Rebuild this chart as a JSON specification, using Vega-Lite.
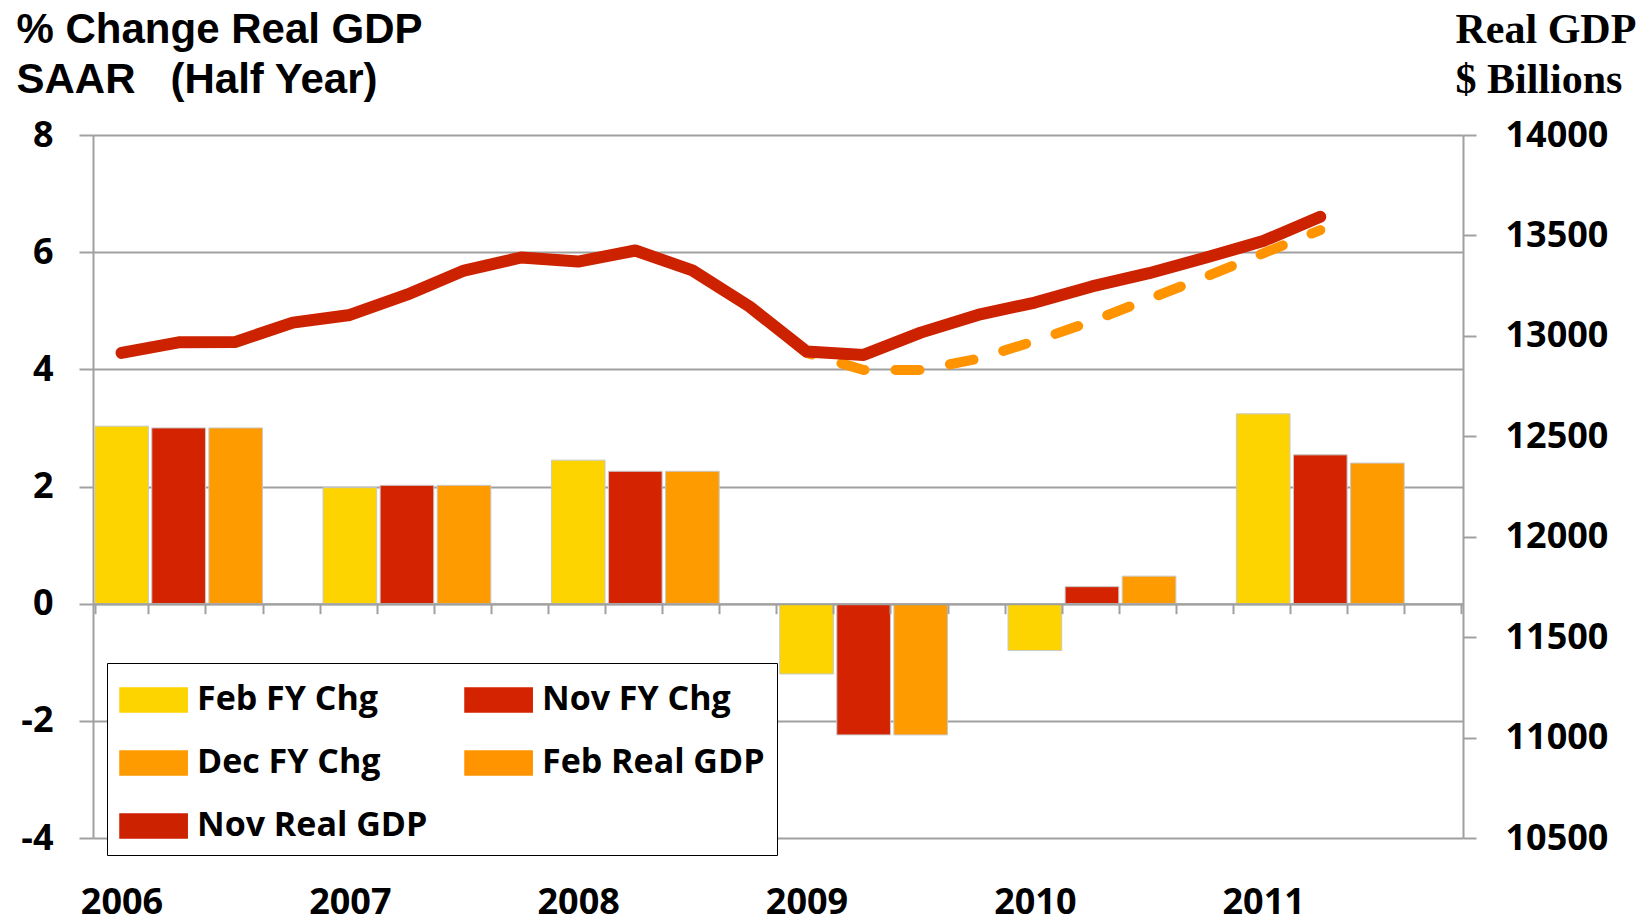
{
  "$schema": "https://vega.github.io/schema/vega-lite/v6.json",
  "width": 1370,
  "height": 703,
  "autosize": "none",
  "padding": {"left": 93, "top": 135, "right": 187, "bottom": 86},
  "background": "white",
  "config": {"view": {"stroke": null}},
  "datasets": {
    "bars": [
      {"q": "2006Q1", "series": "Feb FY Chg", "pct": 3.03},
      {"q": "2006Q2", "series": "Nov FY Chg", "pct": 3.00},
      {"q": "2006Q3", "series": "Dec FY Chg", "pct": 3.00},
      {"q": "2007Q1", "series": "Feb FY Chg", "pct": 1.98},
      {"q": "2007Q2", "series": "Nov FY Chg", "pct": 2.02},
      {"q": "2007Q3", "series": "Dec FY Chg", "pct": 2.02},
      {"q": "2008Q1", "series": "Feb FY Chg", "pct": 2.45},
      {"q": "2008Q2", "series": "Nov FY Chg", "pct": 2.26},
      {"q": "2008Q3", "series": "Dec FY Chg", "pct": 2.26},
      {"q": "2009Q1", "series": "Feb FY Chg", "pct": -1.20},
      {"q": "2009Q2", "series": "Nov FY Chg", "pct": -2.24},
      {"q": "2009Q3", "series": "Dec FY Chg", "pct": -2.24},
      {"q": "2010Q1", "series": "Feb FY Chg", "pct": -0.80},
      {"q": "2010Q2", "series": "Nov FY Chg", "pct": 0.29},
      {"q": "2010Q3", "series": "Dec FY Chg", "pct": 0.47},
      {"q": "2011Q1", "series": "Feb FY Chg", "pct": 3.24},
      {"q": "2011Q2", "series": "Nov FY Chg", "pct": 2.54},
      {"q": "2011Q3", "series": "Dec FY Chg", "pct": 2.40}
    ],
    "gdp": [
      {"q": "2006Q1", "series": "Nov Real GDP", "gdp": 12915},
      {"q": "2006Q2", "series": "Nov Real GDP", "gdp": 12968},
      {"q": "2006Q3", "series": "Nov Real GDP", "gdp": 12970},
      {"q": "2006Q4", "series": "Nov Real GDP", "gdp": 13066},
      {"q": "2007Q1", "series": "Nov Real GDP", "gdp": 13104},
      {"q": "2007Q2", "series": "Nov Real GDP", "gdp": 13205},
      {"q": "2007Q3", "series": "Nov Real GDP", "gdp": 13325},
      {"q": "2007Q4", "series": "Nov Real GDP", "gdp": 13390},
      {"q": "2008Q1", "series": "Nov Real GDP", "gdp": 13370},
      {"q": "2008Q2", "series": "Nov Real GDP", "gdp": 13425},
      {"q": "2008Q3", "series": "Nov Real GDP", "gdp": 13326},
      {"q": "2008Q4", "series": "Nov Real GDP", "gdp": 13146},
      {"q": "2009Q1", "series": "Nov Real GDP", "gdp": 12922},
      {"q": "2009Q2", "series": "Nov Real GDP", "gdp": 12905},
      {"q": "2009Q3", "series": "Nov Real GDP", "gdp": 13016},
      {"q": "2009Q4", "series": "Nov Real GDP", "gdp": 13104},
      {"q": "2010Q1", "series": "Nov Real GDP", "gdp": 13166},
      {"q": "2010Q2", "series": "Nov Real GDP", "gdp": 13246},
      {"q": "2010Q3", "series": "Nov Real GDP", "gdp": 13312},
      {"q": "2010Q4", "series": "Nov Real GDP", "gdp": 13390},
      {"q": "2011Q1", "series": "Nov Real GDP", "gdp": 13472},
      {"q": "2011Q2", "series": "Nov Real GDP", "gdp": 13593},
      {"q": "2008Q4", "series": "Feb Real GDP", "gdp": 13146},
      {"q": "2009Q1", "series": "Feb Real GDP", "gdp": 12915},
      {"q": "2009Q2", "series": "Feb Real GDP", "gdp": 12830},
      {"q": "2009Q3", "series": "Feb Real GDP", "gdp": 12830},
      {"q": "2009Q4", "series": "Feb Real GDP", "gdp": 12886},
      {"q": "2010Q1", "series": "Feb Real GDP", "gdp": 12974},
      {"q": "2010Q2", "series": "Feb Real GDP", "gdp": 13073},
      {"q": "2010Q3", "series": "Feb Real GDP", "gdp": 13184},
      {"q": "2010Q4", "series": "Feb Real GDP", "gdp": 13295},
      {"q": "2011Q1", "series": "Feb Real GDP", "gdp": 13411},
      {"q": "2011Q2", "series": "Feb Real GDP", "gdp": 13527}
    ]
  },
  "layer": [
    {
      "data": {"name": "bars"},
      "mark": {"type": "bar", "stroke": "#c8c8c8", "strokeWidth": 1},
      "encoding": {
        "x": {
          "field": "q", "type": "ordinal", "sort": null,
          "scale": {
            "domain": ["2006Q1","2006Q2","2006Q3","2006Q4","2007Q1","2007Q2","2007Q3","2007Q4","2008Q1","2008Q2","2008Q3","2008Q4","2009Q1","2009Q2","2009Q3","2009Q4","2010Q1","2010Q2","2010Q3","2010Q4","2011Q1","2011Q2","2011Q3","2011Q4"],
            "paddingInner": 0.06, "paddingOuter": 0.03
          },
          "axis": {
            "orient": "bottom", "offset": -234.33, "zindex": 1,
            "title": null, "grid": false,
            "domainColor": "#a0a0a0", "domainWidth": 2,
            "tickColor": "#a0a0a0", "tickWidth": 2, "tickSize": 10, "tickBand": "extent",
            "labelExpr": "indexof('' + datum.value, 'Q1') == 4 ? substring('' + datum.value, 0, 4) : ''",
            "labelAngle": 0, "labelPadding": 300, "labelBaseline": "alphabetic",
            "labelFont": "Open Sans", "labelFontWeight": "bold", "labelFontSize": 36, "labelColor": "black"
          }
        },
        "y": {
          "field": "pct", "type": "quantitative",
          "scale": {"domain": [-4, 8], "nice": false},
          "axis": {
            "orient": "left", "values": [-4, -2, 0, 2, 4, 6, 8],
            "grid": true, "gridColor": "#a0a0a0", "gridWidth": 2,
            "domainColor": "#a0a0a0", "domainWidth": 2,
            "tickColor": "#a0a0a0", "tickWidth": 2, "tickSize": 14,
            "labelExpr": "replace('' + datum.label, '\u2212', '-')",
            "labelPadding": 26, "labelFont": "Open Sans", "labelFontWeight": "bold", "labelFontSize": 36, "labelColor": "black",
            "title": ["% Change Real GDP", "SAAR\u00a0\u00a0\u00a0(Half Year)"],
            "titleAngle": 0, "titleAlign": "left", "titleBaseline": "alphabetic",
            "titleX": -77, "titleY": -93, "titleLineHeight": 50,
            "titleFont": "Liberation Sans", "titleFontSize": 42, "titleFontWeight": "bold", "titleColor": "black"
          }
        },
        "color": {
          "field": "series", "type": "nominal",
          "scale": {
            "domain": ["Feb FY Chg", "Nov FY Chg", "Dec FY Chg", "Feb Real GDP", "Nov Real GDP"],
            "range": ["#FDD400", "#D42300", "#FE9B00", "#FF9400", "#CC2200"]
          },
          "legend": {
            "orient": "none", "legendX": 14, "legendY": 528, "columns": 2, "direction": "horizontal", "title": null,
            "fillColor": "white", "strokeColor": "black", "padding": 12,
            "labelFont": "Open Sans", "labelFontWeight": "bold", "labelFontSize": 34, "labelColor": "black", "labelLimit": 500,
            "symbolType": "M-1,-0.5H1.8V0.5H-1Z", "symbolSize": 2304, "labelOffset": 28,
            "rowPadding": 21, "columnPadding": 34,
            "encode": {
              "legend": {"strokeWidth": {"value": 2}},
              "symbols": {
                "shape": {"value": {"expr": "indexof('' + datum.value, 'Real GDP') >= 0 ? 'M-1,0H1.8' : 'M-1,-0.5H1.8V0.5H-1Z'"}},
                "fill": {"value": {"expr": "indexof('' + datum.value, 'Real GDP') >= 0 ? 'transparent' : scale('color', datum.value)"}},
                "stroke": {"value": {"expr": "indexof('' + datum.value, 'Real GDP') >= 0 ? scale('color', datum.value) : '#c8c8c8'"}},
                "strokeWidth": {"value": {"expr": "indexof('' + datum.value, 'Real GDP') >= 0 ? 9 : 1"}},
                "strokeDash": {"value": {"expr": "datum.value == 'Feb Real GDP' ? [26, 40] : [1, 0]"}},
                "strokeCap": {"value": "round"},
                "opacity": {"value": 1}
              }
            }
          }
        }
      }
    },
    {
      "data": {"name": "gdp"},
      "encoding": {
        "x": {"field": "q", "type": "ordinal", "sort": null},
        "y": {
          "field": "gdp", "type": "quantitative",
          "scale": {"domain": [10500, 14000], "nice": false, "zero": false},
          "axis": {
            "orient": "right", "values": [10500, 11000, 11500, 12000, 12500, 13000, 13500, 14000],
            "grid": false, "format": "d",
            "domainColor": "#a0a0a0", "domainWidth": 2,
            "tickColor": "#a0a0a0", "tickWidth": 2, "tickSize": 13,
            "labelPadding": 29, "labelFont": "Open Sans", "labelFontWeight": "bold", "labelFontSize": 36, "labelColor": "black",
            "title": ["Real GDP", "$ Billions"],
            "titleAngle": 0, "titleAlign": "left", "titleBaseline": "alphabetic",
            "titleX": -8, "titleY": -93, "titleLineHeight": 50,
            "titleFont": "Liberation Serif", "titleFontSize": 42, "titleFontWeight": "bold", "titleColor": "black"
          }
        },
        "color": {"field": "series", "type": "nominal"}
      },
      "layer": [
        {
          "transform": [{"filter": "datum.series == 'Feb Real GDP'"}],
          "mark": {"type": "line", "strokeWidth": 10, "strokeDash": [24, 31], "strokeCap": "round", "strokeJoin": "round"}
        },
        {
          "transform": [{"filter": "datum.series == 'Nov Real GDP'"}],
          "mark": {"type": "line", "strokeWidth": 12, "strokeCap": "round", "strokeJoin": "round"}
        }
      ]
    }
  ],
  "resolve": {"scale": {"y": "independent"}, "axis": {"y": "independent"}}
}
